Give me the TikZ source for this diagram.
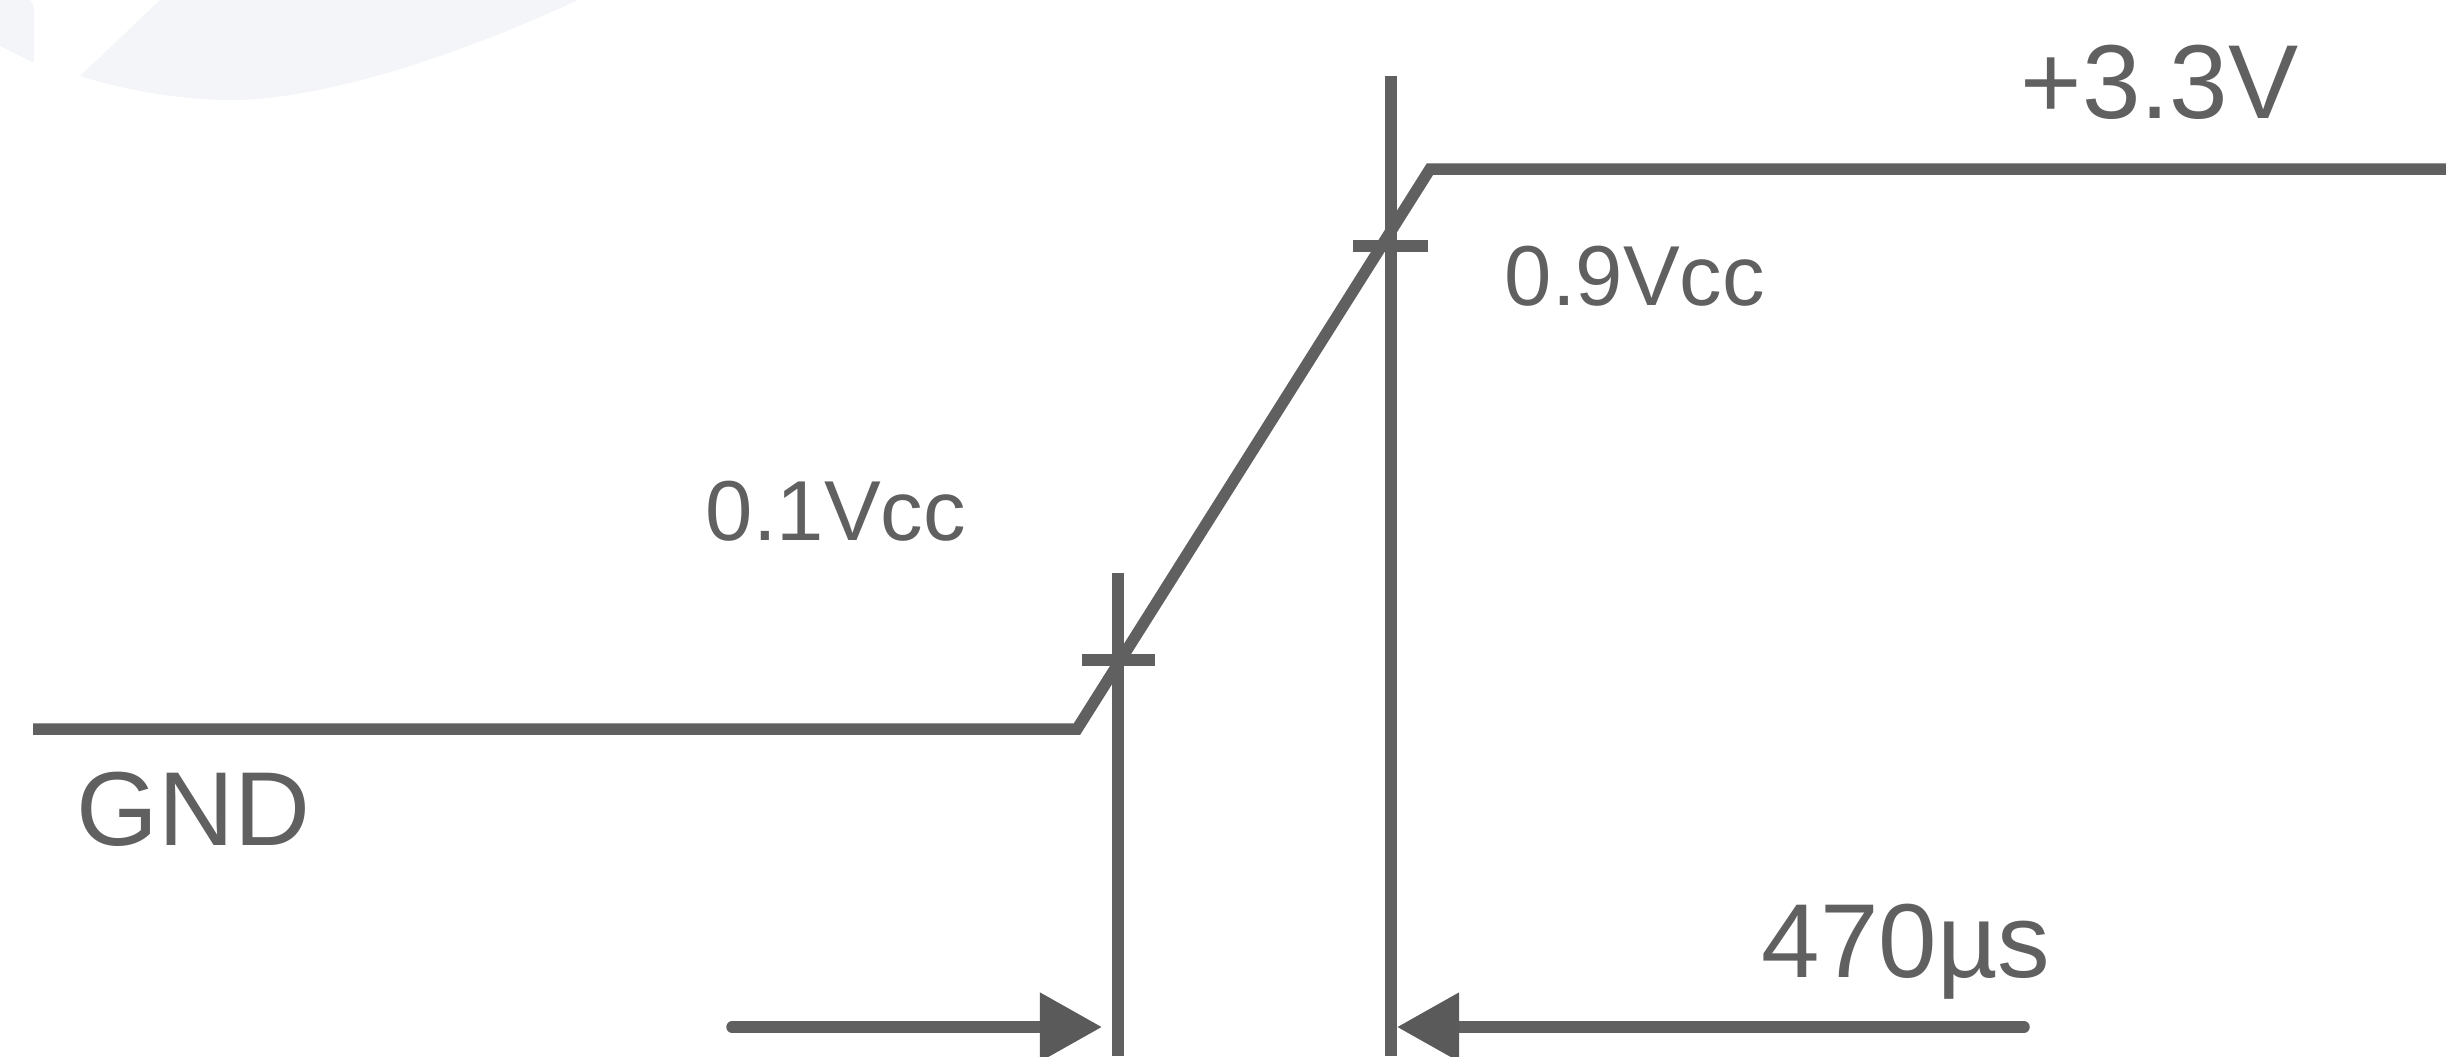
\documentclass[tikz,border=0pt]{standalone}
\usepackage{fontspec}
\setmainfont{Liberation Sans}
\usetikzlibrary{arrows.meta}
\definecolor{ink}{HTML}{606060}
\definecolor{tip}{HTML}{5A5A5A}
\definecolor{faint}{HTML}{F4F5F8}
\tikzset{
  wave/.style={draw=ink, line width=0.115cm, line join=miter},
  guide/.style={draw=ink, line width=0.115cm},
  dim/.style={draw=ink, line width=0.115cm, line cap=round, -{Triangle[length=0.62cm, width=0.66cm, color=tip]}},
  bigtxt/.style={inner sep=0pt, anchor=base west, text=ink, font=\fontsize{29.9}{36}\selectfont},
  smalltxt/.style={inner sep=0pt, anchor=base west, text=ink, font=\fontsize{24.2}{29}\selectfont},
}
\begin{document}
\begin{tikzpicture}[x=0.01cm, y=-0.01cm]
\useasboundingbox (0,0) rectangle (2446,1056);
% faint background shapes
\fill[faint] (0,0) -- (30,0) .. controls (33,3) and (34,6) .. (34,12) -- (34,63) -- (0,46) -- cycle;
\fill[faint] (160,0) -- (80,76) .. controls (130,92) and (190,101) .. (240,100)
  .. controls (340,96) and (470,50) .. (578,0) -- cycle;
% waveform points
\coordinate (g0) at (33,729);
\coordinate (g1) at (1077,729);
\coordinate (h0) at (1430,169);
\coordinate (h1) at (2446,169);
% guide lines
\coordinate (v1t) at (1118,573);
\coordinate (v1b) at (1118,1056);
\coordinate (v9t) at (1391,76);
\coordinate (v9b) at (1391,1056);
\coordinate (t1a) at (1082,660);
\coordinate (t1b) at (1155,660);
\coordinate (t9a) at (1353,246);
\coordinate (t9b) at (1428,246);
% arrows
\coordinate (a1s) at (732,1027);
\coordinate (a1e) at (1102,1027);
\coordinate (a2s) at (2024,1027);
\coordinate (a2e) at (1397,1027);

\draw[wave] (g0) -- (g1) -- (h0) -- (h1);
\draw[guide] (v1t) -- (v1b);
\draw[guide] (v9t) -- (v9b);
\draw[guide] (t1a) -- (t1b);
\draw[guide] (t9a) -- (t9b);
\draw[dim] (a1s) -- (a1e);
\draw[dim] (a2s) -- (a2e);

\node[bigtxt] (vcc) at (2020,118) {+3.3V};
\node[bigtxt] (gnd) at (76,845) {GND};
\node[smalltxt] (p1) at (705,540) {0.1Vcc};
\node[smalltxt] (p9) at (1504,305) {0.9Vcc};
\node[bigtxt] (dt) at (1761,977) {470µs};
\end{tikzpicture}
\end{document}
